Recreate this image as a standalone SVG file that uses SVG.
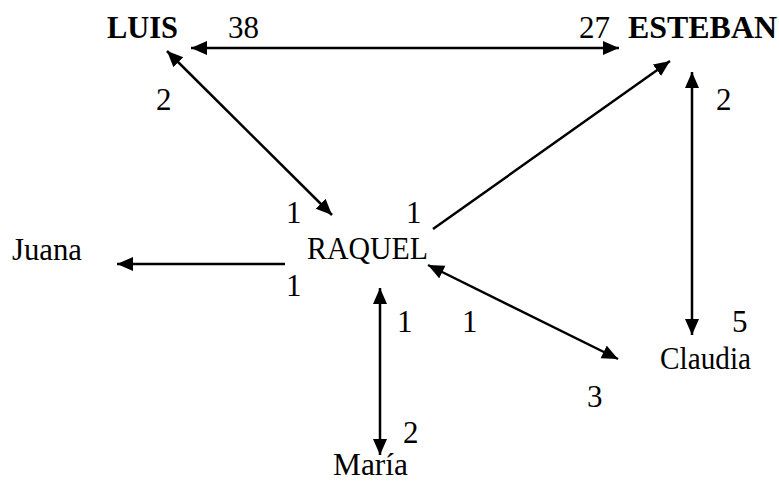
<svg xmlns="http://www.w3.org/2000/svg" width="779" height="481" viewBox="0 0 779 481">
<style>
text{font-family:"Liberation Serif","Times New Roman",serif;font-size:31px;fill:#000}
.b{font-weight:bold}
.c line{stroke:#000;stroke-width:2.5}
</style>
<defs>
<marker id="ah" markerUnits="userSpaceOnUse" markerWidth="17" markerHeight="15" refX="16" refY="7" orient="auto-start-reverse" viewBox="0 0 17 15">
<path d="M0,0 L16,7 L0,14 z" fill="#000"/>
</marker>
</defs>
<rect width="779" height="481" fill="#fff"/>
<g class="c" id="connectors">
<line x1="191" y1="48" x2="619" y2="48" marker-start="url(#ah)" marker-end="url(#ah)"/>
<line x1="167" y1="51" x2="332" y2="215" marker-start="url(#ah)" marker-end="url(#ah)"/>
<line x1="433" y1="229" x2="670" y2="61" marker-end="url(#ah)"/>
<line x1="692" y1="72" x2="692" y2="335" marker-start="url(#ah)" marker-end="url(#ah)"/>
<line x1="285" y1="264" x2="117" y2="264" marker-end="url(#ah)"/>
<line x1="428" y1="265" x2="618" y2="359" marker-start="url(#ah)" marker-end="url(#ah)"/>
<line x1="380" y1="288" x2="380" y2="455" marker-start="url(#ah)" marker-end="url(#ah)"/>
</g>
<g id="luis"><text class="b" x="107" y="38" textLength="71" lengthAdjust="spacingAndGlyphs">LUIS</text></g>
<g id="esteban"><text class="b" x="628" y="38" textLength="149" lengthAdjust="spacingAndGlyphs">ESTEBAN</text></g>
<g id="raquel"><text x="307" y="259" textLength="121" lengthAdjust="spacingAndGlyphs">RAQUEL</text></g>
<g id="juana"><text x="12" y="260" textLength="70" lengthAdjust="spacingAndGlyphs">Juana</text></g>
<g id="claudia"><text x="660" y="369" textLength="91" lengthAdjust="spacingAndGlyphs">Claudia</text></g>
<g id="maria"><text x="333" y="475" textLength="75" lengthAdjust="spacingAndGlyphs">María</text></g>
<g id="labels">
<text x="228" y="38">38</text>
<text x="579" y="38">27</text>
<text x="156" y="110">2</text>
<text x="716" y="110">2</text>
<text x="286" y="223">1</text>
<text x="406" y="223">1</text>
<text x="286" y="296">1</text>
<text x="397" y="332">1</text>
<text x="462" y="332">1</text>
<text x="732" y="332">5</text>
<text x="587" y="407">3</text>
<text x="403" y="443">2</text>
</g>
</svg>
